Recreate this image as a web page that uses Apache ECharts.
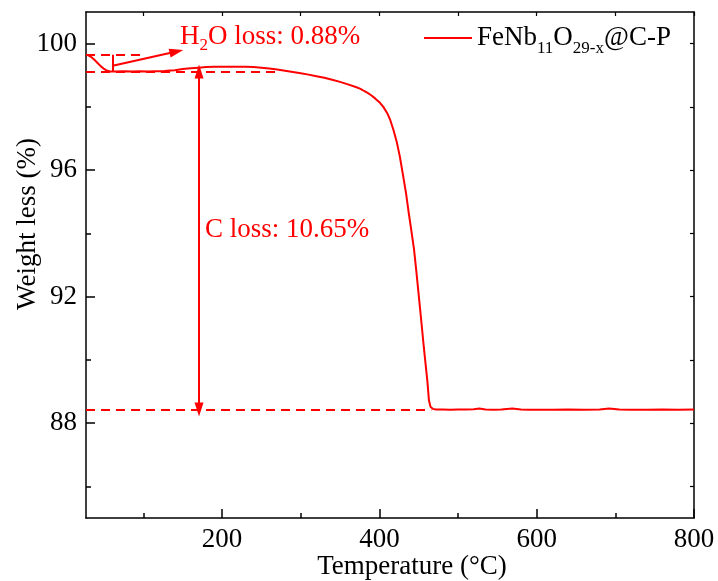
<!DOCTYPE html>
<html><head><meta charset="utf-8">
<script src="https://cdn.jsdelivr.net/npm/echarts@6/dist/echarts.min.js"></script>
<style>html,body{margin:0;padding:0;background:#fff}#c{width:718px;height:581px}</style>
</head><body><div id="c"></div>
<script>
// ---- data ----
const temps = [27,30,34,38,42,46,50,54,58,65,75,85,95,105,115,125,130,140,150,160,170,180,190,200,210,220,230,240,250,260,270,280,290,300,310,320,330,340,350,360,370,376,380,385,390,395,400,405,410,414,418,422,426,430,434,437,440,444,447,450,453,456.5,459,461,463,465,468,472,480,490,500,510,520,527,535,545,555,569,580,590,600,620,640,660,680,692,705,720,740,760,780,800];
const weights = [99.65,99.63,99.57,99.48,99.38,99.28,99.2,99.14,99.12,99.12,99.13,99.12,99.13,99.12,99.13,99.13,99.14,99.16,99.2,99.22,99.24,99.26,99.27,99.27,99.27,99.27,99.27,99.26,99.24,99.21,99.18,99.14,99.1,99.06,99.02,98.97,98.92,98.86,98.79,98.71,98.63,98.57,98.51,98.44,98.36,98.26,98.15,98.0,97.8,97.57,97.26,96.9,96.43,95.85,95.25,94.7,94.2,93.5,92.8,92.05,91.3,90.4,89.8,89.33,88.72,88.52,88.45,88.43,88.43,88.42,88.43,88.43,88.44,88.46,88.43,88.42,88.43,88.46,88.43,88.42,88.42,88.42,88.43,88.42,88.43,88.46,88.43,88.42,88.42,88.43,88.42,88.43];
const xMajorTicks = [200,400,600,800];
const xMinorTicks = [100,300,500,700];
const xTopTicks = [100,200,300,400,500,600,700,800];
const yMajorTicks = [88,92,96,100];
const yMinorTicks = [86,90,94,98];
const yRightTicks = [86,88,90,92,94,96,98,100];
const seriesName = 'FeNb11O29-x@C-P';
const h2oTop = 99.65, h2oBottom = 99.12, carbonLevel = 88.43;
const h2oLabel = '{n|H}{s|2}{n|O loss: 0.88%}';
const cLabel = 'C loss: 10.65%';

const FONT = '"Liberation Serif","Times New Roman",serif';
const RED = '#ff0000';
const X_MIN = 27, X_MAX = 800, Y_MIN = 85, Y_MAX = 101;

const chart = echarts.init(document.getElementById('c'), null, {renderer:'canvas'});
const axisLineStyle = {color:'#000', width:1.5};
function xAxisBase(extra){
  return Object.assign({type:'value', min:X_MIN, max:X_MAX, splitLine:{show:false}}, extra);
}
function yAxisBase(extra){
  return Object.assign({type:'value', min:Y_MIN, max:Y_MAX, splitLine:{show:false}}, extra);
}
const dashed = {type:[9,6], color:RED, width:2};
const solid = {type:'solid', color:RED, width:2};

const option = {
  animation:false,
  backgroundColor:'#fff',
  grid:{left:86, right:24, top:12, bottom:63, containLabel:false, outerBoundsMode:'none'},
  legend:{
    left:419, top:19, icon:'rect', itemWidth:48, itemHeight:2, itemGap:8,
    data:[seriesName],
    formatter:function(){return '{n|FeNb}{s|11}{n|O}{s|29-x}{n|@C-P}';},
    textStyle:{fontFamily:FONT, fontSize:27, color:'#000',
      rich:{
        n:{fontFamily:FONT, fontSize:27, color:'#000', lineHeight:28, verticalAlign:'top'},
        s:{fontFamily:FONT, fontSize:17, color:'#000', lineHeight:17, verticalAlign:'top', padding:[16,0,0,0]}
      }}
  },
  xAxis:[
    xAxisBase({position:'bottom',
      axisLine:{show:true, lineStyle:axisLineStyle},
      axisTick:{show:true, inside:true, length:9, lineStyle:{color:'#000', width:1.5}, customValues:xMajorTicks},
      axisLabel:{show:true, customValues:xMajorTicks, margin:8, fontFamily:FONT, fontSize:27, color:'#000'},
      name:'Temperature (°C)', nameLocation:'middle', nameGap:35, nameMoveOverlap:false,
      nameTextStyle:{fontFamily:FONT, fontSize:27, color:'#000', padding:[0,0,0,44]}
    }),
    xAxisBase({position:'bottom',
      axisLine:{show:false},
      axisTick:{show:true, inside:true, length:5, lineStyle:{color:'#000', width:1.5}, customValues:xMinorTicks},
      axisLabel:{show:false}
    }),
    xAxisBase({position:'top',
      axisLine:{show:true, lineStyle:axisLineStyle},
      axisTick:{show:true, inside:true, length:4, lineStyle:{color:'#000', width:1.2}, customValues:xTopTicks},
      axisLabel:{show:false}
    })
  ],
  yAxis:[
    yAxisBase({position:'left',
      axisLine:{show:true, lineStyle:axisLineStyle},
      axisTick:{show:true, inside:true, length:9, lineStyle:{color:'#000', width:1.5}, customValues:yMajorTicks},
      axisLabel:{show:true, customValues:yMajorTicks, margin:9, fontFamily:FONT, fontSize:27, color:'#000'},
      name:'Weight less (%)', nameLocation:'middle', nameGap:45, nameMoveOverlap:false,
      nameTextStyle:{fontFamily:FONT, fontSize:27, color:'#000', padding:[0,0,0,82]}
    }),
    yAxisBase({position:'left',
      axisLine:{show:false},
      axisTick:{show:true, inside:true, length:5, lineStyle:{color:'#000', width:1.5}, customValues:yMinorTicks},
      axisLabel:{show:false}
    }),
    yAxisBase({position:'right',
      axisLine:{show:true, lineStyle:axisLineStyle},
      axisTick:{show:true, inside:true, length:4, lineStyle:{color:'#000', width:1.2}, customValues:yRightTicks},
      axisLabel:{show:false}
    })
  ],
  series:[{
    name:seriesName, type:'line', xAxisIndex:0, yAxisIndex:0,
    data: temps.map((t,i)=>[t, weights[i]]),
    showSymbol:false, symbol:'none', smooth:false,
    lineStyle:{color:RED, width:2}, itemStyle:{color:RED},
    markLine:{
      silent:true, animation:false, symbol:['none','none'], label:{show:false},
      emphasis:{disabled:true},
      data:[
        [{coord:[X_MIN,h2oTop], lineStyle:dashed},{coord:[102,h2oTop]}],
        [{coord:[X_MIN,h2oBottom], lineStyle:dashed},{coord:[271,h2oBottom]}],
        [{coord:[X_MIN,carbonLevel], lineStyle:dashed},{coord:[466,carbonLevel]}],
        [{coord:[61,h2oTop], lineStyle:solid},{coord:[61,h2oBottom]}],
        [{coord:[61,99.30], lineStyle:solid, symbol:'none'},{coord:[142,99.75], symbol:'triangle', symbolSize:[9,14]}],
        [{coord:[170.7,h2oBottom], lineStyle:solid, symbol:'triangle', symbolSize:[9,14]},{coord:[170.7,carbonLevel], symbol:'triangle', symbolSize:[9,14]}]
      ]
    },
    markPoint:{
      silent:true, animation:false, symbol:'circle', symbolSize:0,
      data:[
        {coord:[146.5,100.19], label:{show:true, position:'right', distance:0, align:'left', verticalAlign:'middle',
          formatter:h2oLabel, fontFamily:FONT, fontSize:27, color:RED,
          rich:{
            n:{fontFamily:FONT, fontSize:27, color:RED, lineHeight:28, verticalAlign:'top'},
            s:{fontFamily:FONT, fontSize:17, color:RED, lineHeight:17, verticalAlign:'top', padding:[13,0,0,0]}
          }}},
        {coord:[178.3,94.11], label:{show:true, position:'right', distance:0, align:'left', verticalAlign:'middle',
          formatter:cLabel, fontFamily:FONT, fontSize:27, color:RED}}
      ]
    }
  }]
};
chart.setOption(option);
</script>
</body></html>
